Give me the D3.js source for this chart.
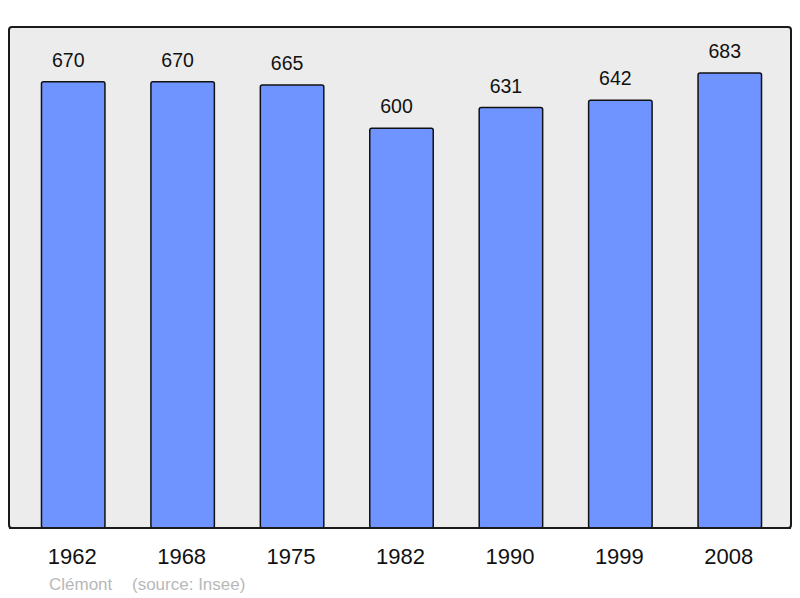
<!DOCTYPE html>
<html>
<head>
<meta charset="utf-8">
<script src="https://cdn.jsdelivr.net/npm/d3@7"></script>
<style>
  body { margin: 0; background: #fff; }
  svg { display: block; font-family: "Liberation Sans", Arial, sans-serif; }
</style>
</head>
<body>
<svg id="canvas"></svg>
<script>
const WIDTH = 800;
const HEIGHT = 598;

const years = ["1962", "1968", "1975", "1982", "1990", "1999", "2008"];
const population = [670, 670, 665, 600, 631, 642, 683];

const canvas = d3.select("#canvas").attr("width", WIDTH).attr("height", HEIGHT);

const frame = { left: 9, top: 27, right: 791, bottom: 528 };

const xScale = d3
  .scaleBand()
  .domain(years)
  .range([18.5, 784.5])
  .paddingInner(0.42)
  .paddingOuter(0.21);

const yScale = d3
  .scaleLinear()
  .domain([0, 752])
  .range([frame.bottom, frame.top]);

// background panel
canvas
  .append("rect")
  .attr("x", frame.left)
  .attr("y", frame.top)
  .attr("width", frame.right - frame.left)
  .attr("height", frame.bottom - frame.top)
  .attr("rx", 3)
  .attr("fill", "#ececec")
  .attr("stroke", "#1a1a1a")
  .attr("stroke-width", 2);

const data = years.map((y, i) => ({ year: y, value: population[i] }));

canvas
  .selectAll(".bar")
  .data(data)
  .enter()
  .append("rect")
  .attr("class", "bar")
  .attr("x", (d) => xScale(d.year))
  .attr("y", (d) => yScale(d.value))
  .attr("width", xScale.bandwidth())
  .attr("height", (d) => yScale(0) - yScale(d.value))
  .attr("rx", 2)
  .attr("fill", "#7094ff")
  .attr("stroke", "#111")
  .attr("stroke-width", 1.5);

// redraw bottom edge of frame over bars
canvas
  .append("line")
  .attr("x1", frame.left)
  .attr("x2", frame.right)
  .attr("y1", frame.bottom)
  .attr("y2", frame.bottom)
  .attr("stroke", "#1a1a1a")
  .attr("stroke-width", 2);

canvas
  .selectAll(".value")
  .data(data)
  .enter()
  .append("text")
  .attr("class", "value")
  .attr("x", (d) => xScale(d.year) + xScale.bandwidth() / 2 - 5)
  .attr("y", (d) => yScale(d.value) - 15)
  .attr("text-anchor", "middle")
  .attr("font-size", 19.5)
  .attr("fill", "#111")
  .text((d) => d.value);

canvas
  .selectAll(".year")
  .data(data)
  .enter()
  .append("text")
  .attr("class", "year")
  .attr("x", (d) => xScale(d.year) + xScale.bandwidth() / 2 - 1)
  .attr("y", 564)
  .attr("text-anchor", "middle")
  .attr("font-size", 22)
  .attr("fill", "#111")
  .text((d) => d.year);

canvas
  .append("text")
  .attr("x", 49)
  .attr("y", 590)
  .attr("font-size", 17)
  .attr("fill", "#b8b8b8")
  .text("Clémont");

canvas
  .append("text")
  .attr("x", 132)
  .attr("y", 590)
  .attr("font-size", 17)
  .attr("fill", "#b8b8b8")
  .text("(source: Insee)");
</script>
</body>
</html>
